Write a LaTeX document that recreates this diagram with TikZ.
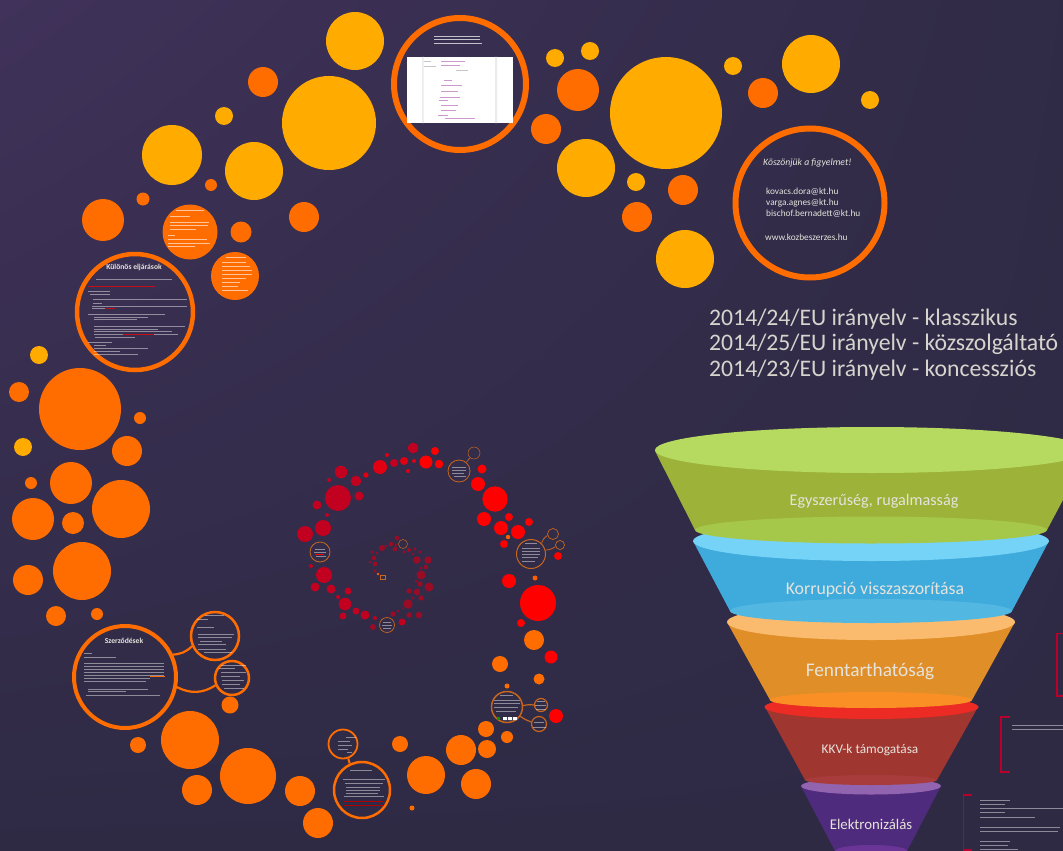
\documentclass[tikz,border=0pt]{standalone}
\usepackage{fontspec}
\usetikzlibrary{shadings}
\setmainfont{Carlito}
\definecolor{yel}{HTML}{FFAB00}
\definecolor{ora}{HTML}{FF6D00}
\definecolor{redA}{HTML}{FF0000}
\definecolor{redB}{HTML}{E00012}
\definecolor{redC}{HTML}{C20020}
\definecolor{redD}{HTML}{9A0C26}
\definecolor{ringdim}{HTML}{C8661E}
\definecolor{brk}{HTML}{B8002A}
\definecolor{txtc}{HTML}{E6E3DC}
\definecolor{bgA}{HTML}{40325A}
\definecolor{bgB}{HTML}{2E2A44}
\definecolor{puBody}{HTML}{4F2B7E}
\definecolor{puTop}{HTML}{9264B0}
\definecolor{puBot}{HTML}{6A3596}
\definecolor{reBody}{HTML}{A03630}
\definecolor{reTop}{HTML}{EC2B24}
\definecolor{reBot}{HTML}{A83C3C}
\definecolor{orBody}{HTML}{E08E28}
\definecolor{orTop}{HTML}{FBBB6E}
\definecolor{orBot}{HTML}{F98F25}
\definecolor{blBody}{HTML}{3EABDC}
\definecolor{blTop}{HTML}{76D3F8}
\definecolor{blBot}{HTML}{52B8E2}
\definecolor{grBody}{HTML}{9DB238}
\definecolor{grTop}{HTML}{B6DA60}
\definecolor{grBot}{HTML}{A6C84A}
\tikzset{
  ringn/.style={circle,draw=ora,inner sep=0pt,line width=#1},
  ringn/.default=4pt,
  dimring/.style={circle,draw=ringdim,inner sep=0pt,line width=#1},
  link/.style={draw=ora,line width=#1},
  linkdim/.style={draw=ringdim,line width=#1},
  tinyline/.style={draw=white,opacity=.45,line width=.75pt},
  tinyred/.style={draw=redA,opacity=.7,line width=.8pt},
  bracket/.style={draw=brk,line width=1.8pt},
  funneltxt/.style={text=txtc,inner sep=0pt,anchor=center},
  headtxt/.style={text=txtc!85!gray,inner sep=0pt,anchor=west,font=\fontsize{23.7}{24}\selectfont},
  mailtxt/.style={text=txtc,inner sep=0pt,anchor=west,font=\fontsize{9.3}{10}\selectfont},
  ringhead/.style={text=txtc,inner sep=0pt,font=\fontsize{7.6}{8}\selectfont\bfseries}
}
\begin{document}
\begin{tikzpicture}[x=1pt,y=-1pt]
\useasboundingbox (0,0) rectangle (1063,851);
\clip (0,0) rectangle (1063,851);
\shade[upper left=bgA,upper right=bgB!92!bgA,lower left=bgB,lower right=bgB] (0,0) rectangle (1063,851);
% yellow circles
\foreach \x/\y/\r in {355/41/29,329/123/47,172/155/30,224/116/9,254/171/29,555/58/9,590/51/9,666/113/56,586/168/29,636/182/9,685/259/29,811/64/29,733/66/9,870/100/9,39/355/9,23/447/9}
  \fill[yel] (\x,\y) circle[radius=\r];
% orange circles
\foreach \x/\y/\r in {263/82/15,211/185/6,143/199/6.5,103/220/21,304/217/15,241/232/10.5,190/232/27.5,235/276/24,578/90/21,546/129/15,683/190/15,637/217/15,763/93/15,
  19/392/10,80/409/41,140/418/6,127/451/15,71/483/21,31/483/6,121/509/29,33/519/21,73/523/11,82/571/29,28/580/15,56/616/10,97/614/6,
  230/705/8.5,190/740/29,138/745/8,197/790/15,248/776/28,300/791/15,318/823/15,400/744/8,426/775/19,461/750/15,476/784/15,487/749/9,486/729/8,412/808/2.5,507/737/6,534/640/10,539/679/5.5,500/664/8,507/686/2.5}
  \fill[ora] (\x,\y) circle[radius=\r];
% red spiral
\foreach \x/\y/\r in {495/499/12.7,538/603/18,478/484/7,482/469/4.5,484/519/7,501/528/7,518/532/7,509/517/4,529/522/4,504/544/4,558/556/4,509/581/7,521/623/4,551/657/6.5,556/716/7,426/462/6.5,439/464/4.3,435/451/4}
  \fill[redA] (\x,\y) circle[radius=\r];
\foreach \x/\y/\r in {404/461/4,414/461/2,408/471/2,380/467/7,387/455/2,366/475/2.7}
  \fill[redB] (\x,\y) circle[radius=\r];
\foreach \x/\y/\r in {413/448/5.3,394/463/4,341/472/6.3,329/480/2,356/481/5.3,338/498/13,359/496/4.5,317/505/4.5,327/515/2,323/528/8,305/534/8,311/566/2,324/575/8,315/587/4.5,331/589/4.5,348/591/3.5,338/597/2,345/604/6.3,356/611/3.5,343/616/3.5,365/615/4.5,375/618/2,402/622/3.5}
  \fill[redC] (\x,\y) circle[radius=\r];
\foreach \x/\y/\r in {373/627/3,393/614/2.7,398/611/1.5,403/608/1,409/615/2.7,419/615/3.3,408/604/4.7,413/598/1.5,421/598/2.7,417/592/3.3,409/591/2.7,429/587/4.5,420/584/2.7,416/581/1.5,421/575/4.5,426/567/2.3,421/568/1.5,428/560/3.7,417/560/3.7,420/552/1.7,415/549/1.7,413/554/1.3,409/550/2,404/552/1.7,397/538/2.3,395/549/2.3,391/544/2.3,396/545/1.3,386/546/1.3,382/548/3,372/552/1.7,377/553/1.3,374/558/2.3,370/562/1.3,375/564/2.3,375/571/1.7}
  \fill[redD] (\x,\y) circle[radius=\r];
\foreach \x/\y/\r in {508/537/2.2,535/578/2.5,378/574/1.3}
  \fill[ora!85!red] (\x,\y) circle[radius=\r];
\draw[ringdim,line width=.5pt] (380,575) rectangle (385,579);
% rings
\node[ringn=6pt,minimum size=132pt] (top) at (460,84) {};
\node[ringn=6pt,minimum size=149pt] (thanks) at (810,203) {};
\node[ringn=4.5pt,minimum size=116pt] (kulonos) at (135,312) {};
\node[ringn=4pt,minimum size=102pt] (szerz) at (125,677) {};
\node[ringn=2.5pt,minimum size=48pt] (szA) at (215,636) {};
\node[ringn=2.5pt,minimum size=34pt] (szB) at (232,678) {};
\node[ringn=2.5pt,minimum size=56pt] (mainC) at (362,790) {};
\node[ringn=1.8pt,minimum size=29pt] (smallC) at (343,744) {};
\node[dimring=1.5pt,minimum size=31pt] (fD) at (507,707) {};
\node[dimring=1.2pt,minimum size=13pt] (fDa) at (541,705) {};
\node[dimring=1.2pt,minimum size=15pt] (fDb) at (539,724) {};
\node[dimring=1pt,minimum size=29pt] (rE) at (531,554) {};
\node[dimring=.7pt,minimum size=11pt] (rEa) at (553,534) {};
\node[dimring=.7pt,minimum size=9pt] (rEb) at (560,545) {};
\node[dimring=.8pt,minimum size=22pt] (rF) at (459,471) {};
\node[dimring=.5pt,minimum size=12pt] (rFa) at (474,453) {};
\node[dimring=.8pt,minimum size=20pt] (rG) at (320,552) {};
\node[dimring=.7pt,minimum size=15pt] (rH) at (387,625) {};
\node[dimring=.5pt,minimum size=9pt] (rI) at (403,544) {};
% connectors
\draw[link=2.2pt] (szerz.25) to[bend right=20] (szA.-156);
\draw[link=2.2pt] (szerz.-11) to[bend right=30] (szB.-156);
\draw[link=2pt] (mainC.115) -- (smallC.-70);
\draw[linkdim=1.2pt] (fD.5) to[bend left=10] (fDa.180);
\draw[linkdim=1.2pt] (fD.-35) to[bend right=8] (fDb.165);
\draw[linkdim=.8pt] (rE.45) to[bend left=20] (rEa.195);
\draw[linkdim=.8pt] (rE.15) to[bend right=15] (rEb.200);
\draw[linkdim=.7pt] (rF.50) -- (rFa.-130);
% top ring picture
\fill[white] (407,57) rectangle (513,123);
\fill[black!8] (422,57) rectangle (423.5,123) (495,57) rectangle (497,123);
\foreach \a/\b/\c in {441/465/61,441/460/65,444/452/80,441/462/85,441/458/91,440/460/97,439/448/100,441/458/105,441/456/110,438/448/115,445/475/118}
  \draw[violet!40!white,line width=.9pt] (\a,\c) -- (\b,\c);
\foreach \a/\b/\c in {424/431/61,424/436/66,456/468/70}
  \draw[gray!45,line width=.7pt] (\a,\c) -- (\b,\c);
\foreach \a/\b/\c in {434/480/36,434/480/39.5,434/482/43}
  \draw[tinyline,opacity=.7] (\a,\c) -- (\b,\c);
% kulonos ring text
\node[ringhead] (kh) at (134,267) {Különös eljárások};
\foreach \a/\b/\c in {96/172/279,88/110/291,90/110/294,93/187/299,93/102/303,92/187/306,92/105/308,88/165/314,94/148/317,94/137/319,94/185/326,94/158/329,94/172/331,94/123/334,154/178/334,95/135/337,88/112/342,94/106/345,94/148/348,94/120/351,94/138/354}
  \draw[tinyline] (\a,\c) -- (\b,\c);
\foreach \a/\b/\c in {88/155/286,105/115/308,123/154/334}
  \draw[tinyred] (\a,\c) -- (\b,\c);
% orange circle text
\foreach \a/\b/\c in {176/204/210,170/190/216,170/209/222,170/208/225,170/196/229,168/175/235,168/207/239,168/210/243,168/195/246,
  226/246/257,222/246/262,222/250/266,222/252/270,222/252/274,222/246/278,222/240/282,222/238/286,222/248/290}
  \draw[tinyline,opacity=.6,line width=.7pt] (\a,\c) -- (\b,\c);
% szerz ring text
\node[ringhead] (sh) at (124,641) {Szerződések};
\foreach \a/\b/\c in {84/92/653,84/116/657,84/164/663,84/164/666,84/164/669,84/164/672,84/164/675,84/150/678,84/146/681,88/148/689,88/126/691,86/160/695}
  \draw[tinyline] (\a,\c) -- (\b,\c);
\foreach \a/\b/\c in {150/165/676}
  \draw[ora,line width=.8pt] (\a,\c) -- (\b,\c);
% small ring text
\foreach \a/\b/\c in {
  205/224/615,197/208/619,197/214/627,198/234/634,198/232/637,200/222/641,198/226/644,198/226/649,204/232/652,
  221/246/665,219/235/668,221/246/672,221/240/676,222/244/680,222/240/684,224/244/688,
  346/356/737,338/350/741,338/352/745,338/348/749,347/352/752,
  350/372/770,343/385/779,345/383/783,346/380/787,346/380/790,346/378/793,344/384/796,
  500/513/695,494/520/700,494/520/703,494/518/707,496/516/711,
  537/545/701,535/546/705,536/546/709,534/544/722,533/546/727}
  \draw[tinyline,line width=.55pt] (\a,\c) -- (\b,\c);
\foreach \a/\b/\c in {344/384/801,344/384/805}
  \draw[red!70!black,line width=.8pt] (\a,\c) -- (\b,\c);
\foreach \a/\b/\c in {525/537/543,522/540/548,522/540/551,522/540/554,522/538/557,522/535/561,
  452/466/467,452/466/470,452/464/473,454/466/476,
  315/325/549,314/326/552,316/326/556,
  383/391/622,382/392/625,383/391/628}
  \draw[tinyline,line width=.45pt] (\a,\c) -- (\b,\c);
\fill[green!60!black] (497,717) rectangle (500,720);
\fill[white] (503,717) rectangle (507,720) (508,717) rectangle (512,720) (513,717) rectangle (517,720);
\draw[redA,line width=.8pt] (315,554) -- (324,554);
% thanks text
\node[mailtxt,font=\fontsize{9.7}{10}\selectfont\itshape] (k0) at (763,163) {Köszönjük a figyelmet!};
\node[mailtxt] (k1) at (766,192) {kovacs.dora@kt.hu};
\node[mailtxt] (k2) at (766,203) {varga.agnes@kt.hu};
\node[mailtxt] (k3) at (766,214) {bischof.bernadett@kt.hu};
\node[mailtxt] (k4) at (765,237) {www.kozbeszerzes.hu};
% headings
\node[headtxt] (h1) at (709,319) {2014/24/EU irányelv - klasszikus};
\node[headtxt] (h2) at (709,344) {2014/25/EU irányelv - közszolgáltató};
\node[headtxt] (h3) at (709,370) {2014/23/EU irányelv - koncessziós};
% funnel, drawn bottom layer first
\fill[puBody] (801,786) -- (835,851) -- (907,851) -- (941,786) -- cycle;
\fill[puTop] (871,786) ellipse[x radius=70,y radius=8.5];
\fill[puBot] (871,851) ellipse[x radius=36,y radius=6];
\fill[reBody] (765,707) -- (805,780) -- (937,780) -- (978,707) -- cycle;
\fill[reTop] (871.5,707) ellipse[x radius=107,y radius=12];
\fill[reBot] (871,780) ellipse[x radius=66,y radius=5];
\fill[orBody] (727,622) -- (770,700) -- (972,700) -- (1015,622) -- cycle;
\fill[orTop] (871,622) ellipse[x radius=144,y radius=18];
\fill[orBot] (871,700) ellipse[x radius=101,y radius=8];
\fill[blBody] (693,541) -- (730,611) -- (1012,611) -- (1049,541) -- cycle;
\fill[blTop] (871,541) ellipse[x radius=178,y radius=20];
\fill[blBot] (871,611) ellipse[x radius=141,y radius=12];
\fill[grBody] (655,451) -- (695,530) -- (1047,530) -- (1089,451) -- cycle;
\fill[grTop] (872,450) ellipse[x radius=217,y radius=23];
\fill[grBot] (871,530) ellipse[x radius=176,y radius=13.5];
\node[funneltxt,font=\fontsize{16.2}{18}\selectfont] (f1) at (874,501) {Egyszerűség, rugalmasság};
\node[funneltxt,font=\fontsize{17.8}{19}\selectfont] (f2) at (875,590) {Korrupció visszaszorítása};
\node[funneltxt,font=\fontsize{19.3}{21}\selectfont] (f3) at (870,671) {Fenntarthatóság};
\node[funneltxt,font=\fontsize{13.3}{14}\selectfont] (f4) at (870,750) {KKV-k támogatása};
\node[funneltxt,font=\fontsize{14.8}{16}\selectfont] (f5) at (871,824) {Elektronizálás};
% brackets
\draw[bracket] (1064,633.5) -- (1057,633.5) -- (1057,696) -- (1064,696);
\draw[bracket] (1010,717) -- (1001,717) -- (1001,772) -- (1010,772);
\draw[bracket] (972,795) -- (963.5,795) -- (963.5,850) -- (972,850);
\foreach \a/\b/\c in {1012/1063/725,1012/1063/729,
  980/1010/800,980/1005/804,980/1063/808,980/1005/812,980/1035/817,980/1060/827,980/1058/831,980/1010/841,980/1008/845,980/1018/849}
  \draw[tinyline,line width=.65pt] (\a,\c) -- (\b,\c);
\end{tikzpicture}
\end{document}
